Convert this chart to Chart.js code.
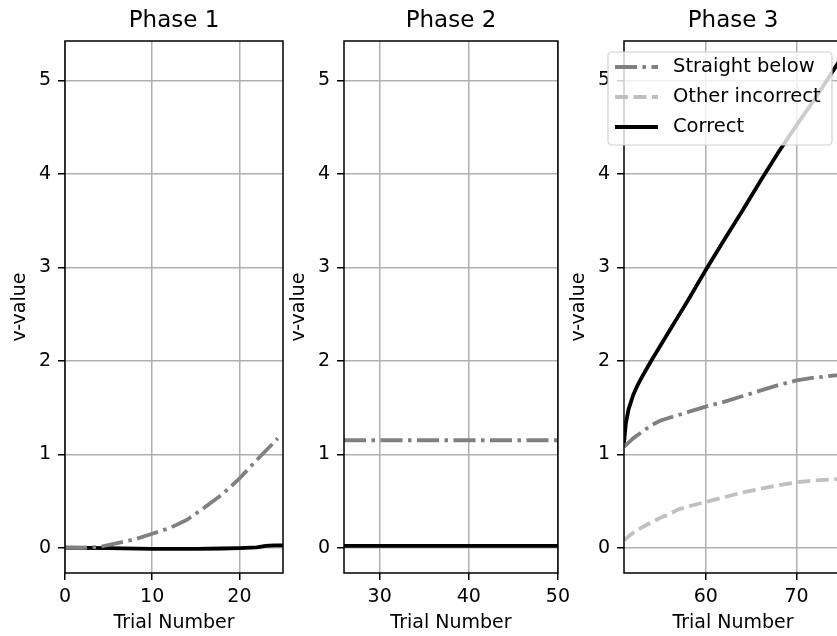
<!DOCTYPE html>
<html><head><meta charset="utf-8">
<script src="https://cdn.jsdelivr.net/npm/chart.js@4.4.1/dist/chart.umd.min.js"></script>
<style>
html,body{margin:0;padding:0;background:#fff;overflow:hidden;width:837px;height:636px;position:relative;}
canvas{position:absolute;top:0;}
</style></head><body>
<canvas id="c1" width="297" height="636" style="left:0px"></canvas>
<canvas id="c2" width="297" height="636" style="left:279px"></canvas>
<canvas id="c3" width="297" height="636" style="left:559px"></canvas>
<script>
// ---- data ----
const seriesNames = ['Straight below', 'Other incorrect', 'Correct'];
const phaseTitles = ['Phase 1', 'Phase 2', 'Phase 3'];
const xAxisLabel = 'Trial Number';
const yAxisLabel = 'v-value';
const yTicks = [0, 1, 2, 3, 4, 5];
const yRange = [-0.27, 5.42];

const p1Range = [0, 25];
const p1XTicks = [0, 10, 20];
const p1StraightX = [0, 2, 4, 6, 8, 10, 12, 14, 16, 18, 20, 22, 24, 24.4];
const p1Straight  = [0, 0, 0.01, 0.05, 0.09, 0.15, 0.21, 0.30, 0.43, 0.57, 0.74, 0.94, 1.13, 1.17];
const p1CorrectX  = [0, 5, 10, 15, 18, 20, 22, 23, 24, 25];
const p1Correct   = [0, -0.005, -0.012, -0.012, -0.008, -0.003, 0.005, 0.02, 0.025, 0.025];

const p2Range = [26, 50];
const p2XTicks = [30, 40, 50];
const p2X        = [26, 30, 35, 40, 45, 50];
const p2Straight = [1.15, 1.15, 1.15, 1.15, 1.15, 1.15];
const p2Correct  = [0.02, 0.02, 0.02, 0.02, 0.02, 0.02];

const p3Range = [51, 75];
const p3XTicks = [60, 70];
const p3X        = [51, 52, 53, 54, 55, 56, 57, 58, 60, 62, 64, 66, 68, 70, 72, 74, 75];
const p3Straight = [1.08, 1.17, 1.24, 1.31, 1.36, 1.39, 1.42, 1.45, 1.51, 1.56, 1.62, 1.68, 1.74, 1.79, 1.82, 1.84, 1.85];
const p3Other    = [0.08, 0.16, 0.22, 0.27, 0.32, 0.36, 0.41, 0.44, 0.49, 0.54, 0.59, 0.63, 0.67, 0.70, 0.72, 0.73, 0.74];
const p3CorrectX = [51, 51.2, 51.5, 52, 52.5, 53, 54, 55, 56, 57, 58, 60, 62, 64, 66, 68, 70, 72, 74, 75];
const p3Correct  = [1.12, 1.33, 1.48, 1.63, 1.74, 1.83, 2.00, 2.16, 2.32, 2.48, 2.64, 2.97, 3.29, 3.60, 3.92, 4.23, 4.52, 4.80, 5.10, 5.25];

// ---- styles ----
const FONT = 'DejaVu Sans';
const LW = 3.8;
const seriesStyles = [
  { color: '#808080', dash: [22, 5.5, 3.5, 5.5] },
  { color: '#c0c0c0', dash: [13, 5.5] },
  { color: '#000000', dash: [] }
];

function pts(xs, ys) { return xs.map((x, i) => ({ x: x, y: ys[i] })); }
function ds(idx, data) {
  const s = seriesStyles[idx];
  return { label: seriesNames[idx], data: data, borderColor: s.color, borderDash: s.dash,
    borderWidth: LW, pointRadius: 0, tension: 0, fill: false,
    borderJoinStyle: 'round', borderCapStyle: 'butt' };
}

function makePlugin(showLegend) {
  return {
    id: 'mplExtras',
    afterDatasetsDraw(chart) {
      const a = chart.chartArea, ctx = chart.ctx;
      ctx.save();
      ctx.strokeStyle = '#000'; ctx.lineWidth = 1.5;
      ctx.strokeRect(a.left, a.top, a.right - a.left, a.bottom - a.top);
      ctx.restore();
    },
    afterDraw(chart) {
      if (!showLegend) return;
      const a = chart.chartArea, ctx = chart.ctx;
      const bx = a.left - 16, by = a.top + 11, bw = 224, bh = 93, r = 4;
      ctx.save();
      ctx.beginPath();
      ctx.roundRect(bx, by, bw, bh, r);
      ctx.fillStyle = 'rgba(255,255,255,0.8)';
      ctx.fill();
      ctx.strokeStyle = '#d0d0d0'; ctx.lineWidth = 1.2;
      ctx.stroke();
      ctx.font = '19.5px "' + FONT + '"';
      ctx.textBaseline = 'middle';
      ctx.fillStyle = '#000';
      for (let i = 0; i < seriesNames.length; i++) {
        const y = by + 15 + i * 30;
        const st = seriesStyles[i];
        ctx.beginPath();
        ctx.setLineDash(st.dash);
        ctx.strokeStyle = st.color; ctx.lineWidth = LW; ctx.lineCap = 'butt';
        ctx.moveTo(bx + 7, y); ctx.lineTo(bx + 50, y);
        ctx.stroke();
        ctx.setLineDash([]);
        ctx.fillText(seriesNames[i], bx + 65, y);
      }
      ctx.restore();
    }
  };
}

function makeChart(id, title, range, xticks, datasets, showLegend) {
  return new Chart(document.getElementById(id), {
    type: 'line',
    data: { datasets: datasets },
    options: {
      responsive: false, animation: false, devicePixelRatio: 1,
      layout: { padding: { left: 0, right: 14, top: 0, bottom: 0 } },
      plugins: {
        legend: { display: false }, tooltip: { enabled: false },
        title: { display: true, fullSize: false, text: title, color: '#000',
          font: { family: FONT, size: 23, weight: 'normal' }, padding: { top: 7, bottom: 6.4 } }
      },
      scales: {
        x: {
          type: 'linear', min: range[0], max: range[1],
          afterBuildTicks: s => { s.ticks = xticks.map(v => ({ value: v })); },
          afterFit: s => { s.height = 63; },
          ticks: { autoSkip: false, maxRotation: 0, padding: 6, color: '#000',
            font: { family: FONT, size: 19 } },
          grid: { color: '#b0b0b0', lineWidth: 1.5, tickColor: '#000', tickWidth: 1.5, tickLength: 7 },
          border: { display: false },
          title: { display: true, text: xAxisLabel, color: '#000',
            font: { family: FONT, size: 19 }, padding: { top: 0, bottom: 2 } }
        },
        y: {
          type: 'linear', min: yRange[0], max: yRange[1],
          afterBuildTicks: s => { s.ticks = yTicks.map(v => ({ value: v })); },
          afterFit: s => { s.width = 65; },
          ticks: { padding: 7, color: '#000', font: { family: FONT, size: 19 } },
          grid: { color: '#b0b0b0', lineWidth: 1.5, tickColor: '#000', tickWidth: 1.5, tickLength: 7 },
          border: { display: false },
          title: { display: true, text: yAxisLabel, color: '#000',
            font: { family: FONT, size: 19 }, padding: { top: 9, bottom: 0 } }
        }
      }
    },
    plugins: [makePlugin(showLegend)]
  });
}

makeChart('c1', phaseTitles[0], p1Range, p1XTicks,
  [ds(0, pts(p1StraightX, p1Straight)), ds(2, pts(p1CorrectX, p1Correct))], false);
makeChart('c2', phaseTitles[1], p2Range, p2XTicks,
  [ds(0, pts(p2X, p2Straight)), ds(2, pts(p2X, p2Correct))], false);
makeChart('c3', phaseTitles[2], p3Range, p3XTicks,
  [ds(0, pts(p3X, p3Straight)), ds(1, pts(p3X, p3Other)), ds(2, pts(p3CorrectX, p3Correct))], true);
</script>
</body></html>
